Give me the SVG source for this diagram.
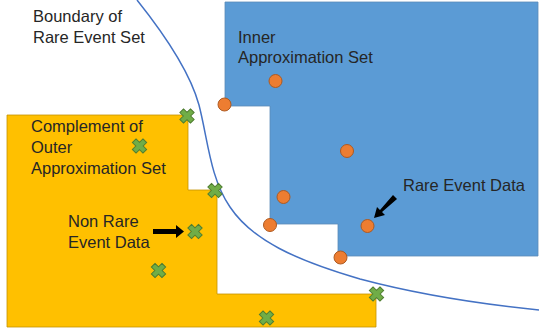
<svg xmlns="http://www.w3.org/2000/svg" width="539" height="335" viewBox="0 0 539 335">
<style>
text{font-family:"Liberation Sans",Arial,sans-serif;font-size:16.5px;fill:#262626}
.dot{fill:#ED7D31;stroke:#AE5A21;stroke-width:1}
.x{fill:#70AD47;stroke:#507E32;stroke-width:1}
.arr{fill:#000}
</style>
<defs>
<polygon id="cross" points="-2.6,-7.5 2.6,-7.5 2.6,-2.6 7.5,-2.6 7.5,2.6 2.6,2.6 2.6,7.5 -2.6,7.5 -2.6,2.6 -7.5,2.6 -7.5,-2.6 -2.6,-2.6" transform="rotate(45)"/>
</defs>
<rect width="539" height="335" fill="#fff"/>
<g id="inner-set">
<polygon points="225,2 538,2 538,256 338,256 338,224 270,224 270,106 225,106" fill="#5B9BD5" stroke="#5a8ab8" stroke-width="0.8"/>
<text x="238" y="43">Inner</text>
<text x="238" y="63">Approximation Set</text>
</g>
<g id="outer-complement">
<polygon points="7,115 188,115 188,190 217,190 217,294 376,294 376,327 7,327" fill="#FFC000" stroke="#C49200" stroke-width="0.8"/>
<text x="31" y="132">Complement of</text>
<text x="31" y="153">Outer</text>
<text x="31" y="174">Approximation Set</text>
</g>
<g id="boundary">
<path d="M137,0 C165,35 190,72 199,105 C208,140 210,178 230,207 C252,240 295,260 360,279 C420,295 480,304 539,310" fill="none" stroke="#4472C4" stroke-width="1.5"/>
<text x="33" y="22">Boundary of</text>
<text x="33" y="43">Rare Event Set</text>
</g>
<g id="rare-data">
<circle class="dot" cx="224.5" cy="104.5" r="6.5"/>
<circle class="dot" cx="275.5" cy="81" r="6.5"/>
<circle class="dot" cx="347" cy="151" r="6.5"/>
<circle class="dot" cx="283.5" cy="197" r="6.5"/>
<circle class="dot" cx="270" cy="225" r="6.5"/>
<circle class="dot" cx="367.5" cy="226" r="6.5"/>
<circle class="dot" cx="340.5" cy="257.5" r="6.5"/>
<text x="403" y="191">Rare Event Data</text>
</g>
<g id="non-rare-data">
<use href="#cross" class="x" x="187" y="116"/>
<use href="#cross" class="x" x="139.5" y="146"/>
<use href="#cross" class="x" x="215" y="190.5"/>
<use href="#cross" class="x" x="195" y="231.5"/>
<use href="#cross" class="x" x="158.5" y="270.5"/>
<use href="#cross" class="x" x="376.5" y="294"/>
<use href="#cross" class="x" x="266.5" y="318"/>
<text x="68" y="227">Non Rare</text>
<text x="68" y="248">Event Data</text>
</g>
<g id="connectors">
<polygon class="arr" points="153,229 176,229 176,225 184,231.5 176,238 176,234 153,234"/>
<polygon class="arr" points="393,195 397,199 382,212 385,215 374,218 377,207 380,210"/>
</g>
</svg>
